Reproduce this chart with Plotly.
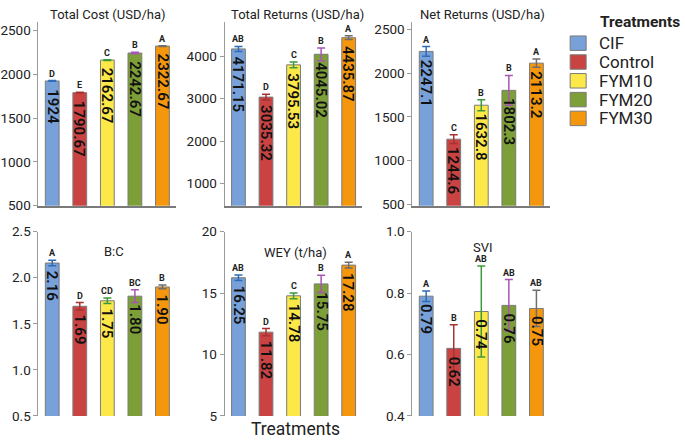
import plotly.graph_objects as go

W, H = 685, 448

categories = ["CIF", "Control", "FYM10", "FYM20", "FYM30"]

total_cost = [1924, 1790.67, 2162.67, 2242.67, 2322.67]
total_cost_err = [4, 4, 4, 8, 4]
total_cost_letters = ["D", "E", "C", "B", "A"]

total_returns = [4171.15, 3035.32, 3795.53, 4045.02, 4435.87]
total_returns_err = [60, 70, 70, 150, 45]
total_returns_letters = ["AB", "D", "C", "B", "A"]

net_returns = [2247.1, 1244.6, 1632.8, 1802.3, 2113.2]
net_returns_err = [55, 50, 62, 171, 47]
net_returns_letters = ["A", "C", "B", "B", "A"]

bc_ratio = [2.16, 1.69, 1.75, 1.80, 1.90]
bc_err = [0.03, 0.04, 0.03, 0.07, 0.02]
bc_letters = ["A", "D", "CD", "BC", "B"]

wey = [16.25, 11.82, 14.78, 15.75, 17.28]
wey_err = [0.23, 0.29, 0.23, 0.70, 0.23]
wey_letters = ["AB", "D", "C", "B", "A"]

svi = [0.79, 0.62, 0.74, 0.76, 0.75]
svi_err = [0.017, 0.077, 0.148, 0.084, 0.059]
svi_letters = ["A", "B", "AB", "AB", "AB"]

bar_colors = ["#77a1d8", "#c94343", "#fde84a", "#7d9f37", "#f5970c"]
err_colors = ["#2e6cb8", "#a83232", "#3c9a3c", "#a855b5", "#6e6e6e"]

FONT = "Roboto"

panels = [
    dict(title="Total Cost (USD/ha)", vals=total_cost, err=total_cost_err, let=total_cost_letters,
         fmt="g", rng=[500, 2592], ticks=[500, 1000, 1500, 2000, 2500], tf="", row=0, col=0),
    dict(title="Total Returns (USD/ha)", vals=total_returns, err=total_returns_err, let=total_returns_letters,
         fmt="g", rng=[477, 4795], ticks=[1000, 2000, 3000, 4000], tf="", row=0, col=1),
    dict(title="Net Returns (USD/ha)", vals=net_returns, err=net_returns_err, let=net_returns_letters,
         fmt=".1f", rng=[485, 2578], ticks=[500, 1000, 1500, 2000, 2500], tf="", row=0, col=2),
    dict(title="B:C", vals=bc_ratio, err=bc_err, let=bc_letters,
         fmt=".2f", rng=[0.5, 2.5], ticks=[0.5, 1.0, 1.5, 2.0, 2.5], tf=".1f", row=1, col=0),
    dict(title="WEY (t/ha)", vals=wey, err=wey_err, let=wey_letters,
         fmt=".2f", rng=[5, 20], ticks=[5, 10, 15, 20], tf="", row=1, col=1),
    dict(title="SVI", vals=svi, err=svi_err, let=svi_letters,
         fmt=".2f", rng=[0.4, 1.0], ticks=[0.4, 0.6, 0.8, 1.0], tf=".1f", row=1, col=2),
]

col_px = [(37.5, 175.5), (224, 362), (412, 550)]
row_px = [(15, 205), (232, 423)]
title_pos = [[(107, 7), (297, 7), (482, 7)], [(113, 252), (295, 254), (483, 248)]]


def px_x(x):
    return x / W


def px_y(y):
    return 1 - y / H


fig = go.Figure()
annotations = []
layout_axes = {}

for i, p in enumerate(panels):
    n = i + 1
    xa = "x" if n == 1 else f"x{n}"
    ya = "y" if n == 1 else f"y{n}"
    xkey = "xaxis" if n == 1 else f"xaxis{n}"
    ykey = "yaxis" if n == 1 else f"yaxis{n}"
    for j, c in enumerate(categories):
        fig.add_trace(go.Bar(
            x=[c], y=[p["vals"][j]], width=0.5,
            marker=dict(color=bar_colors[j], line=dict(color="#7a7a7a", width=1)),
            error_y=dict(type="data", array=[p["err"][j]], color=err_colors[j], thickness=1.5, width=4),
            xaxis=xa, yaxis=ya, showlegend=False, hoverinfo="skip",
        ))
        annotations.append(dict(
            x=c, y=p["vals"][j], xref=xa, yref=ya, text=format(p["vals"][j], p["fmt"]),
            textangle=90, showarrow=False, yanchor="top", xanchor="center", yshift=-6,
            font=dict(family=FONT, size=15, color="#111", weight=600),
        ))
        annotations.append(dict(
            x=c, y=p["vals"][j] + p["err"][j], xref=xa, yref=ya, text=p["let"][j],
            showarrow=False, yanchor="bottom", xanchor="center", yshift=0,
            font=dict(family=FONT, size=9, color="#222", weight=700),
        ))
    x0, x1 = col_px[p["col"]]
    y0, y1 = row_px[p["row"]]
    top = p["row"] == 0
    layout_axes[xkey] = dict(
        domain=[px_x(x0), px_x(x1)], anchor=ya, type="category",
        categoryorder="array", categoryarray=categories, range=[-0.5, 4.5],
        showticklabels=False, ticks="", showgrid=False, zeroline=False,
        showline=top, linecolor="#7a7a7a", linewidth=1.5,
    )
    layout_axes[ykey] = dict(
        domain=[px_y(y1), px_y(y0)], anchor=xa, range=p["rng"], tickvals=p["ticks"],
        tickformat=p["tf"], showgrid=False, zeroline=False, showline=True,
        linecolor="#9a9a9a", linewidth=1, ticks="outside", ticklen=4, tickcolor="#9a9a9a",
        tickfont=dict(family=FONT, size=13.5, color="#222"),
    )
    tx, ty = title_pos[p["row"]][p["col"]]
    annotations.append(dict(
        x=px_x(tx), y=px_y(ty), xref="paper", yref="paper", text=p["title"], showarrow=False,
        xanchor="center", yanchor="middle", font=dict(family=FONT, size=13, color="#222"),
    ))

# Legend (manual)
shapes = []
annotations.append(dict(
    x=px_x(598), y=px_y(14), xref="paper", yref="paper", text="<b>Treatments</b>", showarrow=False,
    xanchor="left", yanchor="middle", font=dict(family=FONT, size=15.5, color="#222"),
))
for j, c in enumerate(categories):
    yt = 29 + j * 19.5
    shapes.append(dict(
        type="rect", xref="paper", yref="paper",
        x0=px_x(570), x1=px_x(586), y0=px_y(yt + 15), y1=px_y(yt),
        fillcolor=bar_colors[j], line=dict(color="#7a7a7a", width=1),
    ))
    annotations.append(dict(
        x=px_x(597), y=px_y(yt + 7.5), xref="paper", yref="paper", text=c, showarrow=False,
        xanchor="left", yanchor="middle", font=dict(family=FONT, size=17, color="#222"),
    ))

annotations.append(dict(
    x=px_x(295), y=px_y(437), xref="paper", yref="paper", text="Treatments", showarrow=False,
    xanchor="center", yanchor="middle", font=dict(family=FONT, size=17.5, color="#222"),
))

fig.update_layout(
    width=W, height=H, margin=dict(l=0, r=0, t=0, b=0),
    paper_bgcolor="white", plot_bgcolor="white", barmode="overlay",
    annotations=annotations, shapes=shapes, showlegend=False,
    font=dict(family=FONT), **layout_axes,
)

fig.write_html(
    "out.html",
    config={"displayModeBar": False},
    post_script="document.body.style.margin='0';document.body.style.overflow='hidden';",
)
